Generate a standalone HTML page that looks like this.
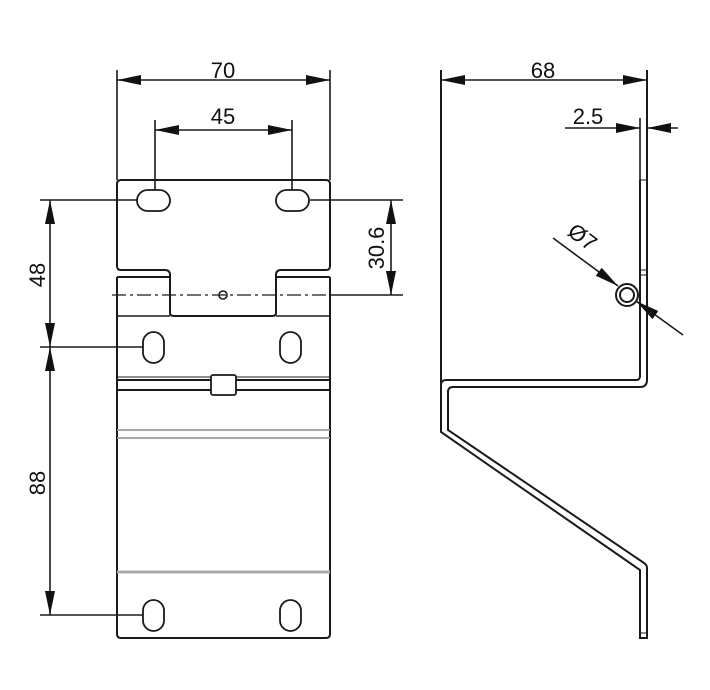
<!DOCTYPE html>
<html><head><style>body{margin:0;background:#fff}svg{display:block}text{font-family:"Liberation Sans",sans-serif;font-size:22px;fill:#111}</style></head><body>
<svg width="710" height="690" viewBox="0 0 710 690" xmlns="http://www.w3.org/2000/svg">
<defs>
<marker id="a" viewBox="0 0 24 10" refX="24" refY="5" markerWidth="24" markerHeight="10" markerUnits="userSpaceOnUse" orient="auto-start-reverse"><path d="M0,0L24,5L0,10z" fill="#111"/></marker>
</defs>
<g stroke="#1a1a1a" stroke-width="1.6" fill="none">
<!-- front view -->
<path d="M121,180H326Q330,180 330,184V266Q330,270 326,270H281Q276,270 276,275V313Q276,316 272,316H174Q170,316 170,313V275Q170,270 165,270H121Q117,270 117,266V184Q117,180 121,180Z" stroke-width="2"/>
<path d="M117,277H170M276,277H330M117,277V634Q117,638 121,638H326Q330,638 330,634V277" stroke-width="2"/>
<path d="M117,316H170M276,316H330"/>
<rect x="137" y="190" width="33" height="21" rx="10.5" stroke-width="1.8"/>
<rect x="276" y="190" width="33" height="21" rx="10.5" stroke-width="1.8"/>
<rect x="143" y="332" width="21" height="31" rx="10.5" stroke-width="1.8"/>
<rect x="280" y="332" width="21" height="31" rx="10.5" stroke-width="1.8"/>
<rect x="143" y="600" width="21" height="31" rx="10.5" stroke-width="1.8"/>
<rect x="280" y="600" width="21" height="31" rx="10.5" stroke-width="1.8"/>
<circle cx="223" cy="295" r="4"/>
<path d="M112,295H330" stroke-dasharray="14,4,3,4" stroke-width="1.2"/>
<path d="M117,380H211M236,380H330M117,390H211M236,390H330" stroke-width="2"/>
<path d="M117,377H330" stroke-width="1"/>
<rect x="211" y="375" width="25" height="20" rx="2" stroke-width="1.8" fill="#fff"/>
<path d="M117,430H330M117,438H330" stroke="#999" stroke-width="1.8"/>
<path d="M117,572H330" stroke="#aaa" stroke-width="3"/>
<!-- front dims -->
<path d="M117,70V180M330,70V180M155,120V190M292,120V190"/>
<path d="M117,80H330" marker-start="url(#a)" marker-end="url(#a)"/>
<path d="M155,130H292" marker-start="url(#a)" marker-end="url(#a)"/>
<path d="M40,200H137M40,347H143M40,615H143M310,200H403M330,295H403"/>
<path d="M50,200V347" marker-start="url(#a)" marker-end="url(#a)"/>
<path d="M50,347V615" marker-start="url(#a)" marker-end="url(#a)"/>
<path d="M391,200V295" marker-start="url(#a)" marker-end="url(#a)"/>
<!-- side view -->
<path d="M441,70V432L640,570V638H647V568Q647,565 644,563L448,430V392Q448,387 453,387H640Q647,387 647,380V70" stroke-width="2"/>
<path d="M441,385Q441,380 446,380H636Q640,380 640,376V180" stroke-width="2"/>
<path d="M640,180H647M640,270H647M640,275H647M640,633H647" stroke-width="1"/>
<circle cx="627" cy="295" r="11" fill="#fff" stroke-width="2"/>
<circle cx="627" cy="295" r="7" stroke-width="2"/>
<path d="M441,80H647" marker-start="url(#a)" marker-end="url(#a)"/>
<path d="M640,118V180"/>
<path d="M565,128H640" marker-end="url(#a)"/>
<path d="M678,128H647" marker-end="url(#a)"/>
<path d="M553,238L618,286" marker-end="url(#a)"/>
<path d="M683,335L636,301" marker-end="url(#a)"/>
</g>
<text x="223" y="78" text-anchor="middle">70</text>
<text x="223" y="124" text-anchor="middle">45</text>
<text x="543" y="78" text-anchor="middle">68</text>
<text x="588" y="124" text-anchor="middle">2.5</text>
<text transform="translate(45,275) rotate(-90)" text-anchor="middle">48</text>
<text transform="translate(45,483) rotate(-90)" text-anchor="middle">88</text>
<text transform="translate(384,248) rotate(-90)" text-anchor="middle">30.6</text>
<text transform="translate(578,243) rotate(37)" text-anchor="middle">Ø7</text>
</svg>
</body></html>
